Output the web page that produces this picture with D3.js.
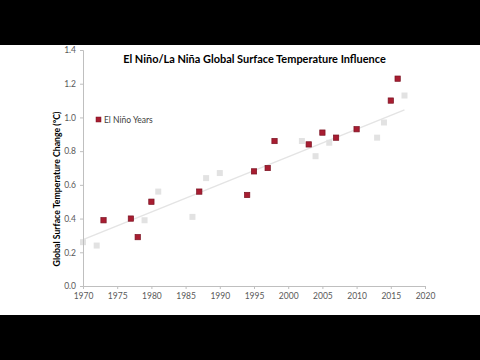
<!DOCTYPE html>
<html><head><meta charset="utf-8">
<script src="https://cdn.jsdelivr.net/npm/d3@7/dist/d3.min.js"></script>
<style>html,body{margin:0;padding:0;background:#000;} svg{display:block;}</style>
</head><body><svg id="c" width="480" height="360"></svg>
<script>
const elNinoYears = [1973,1977,1978,1980,1987,1994,1995,1997,1998,2003,2005,2007,2010,2015,2016];
const elNinoValues = [0.39,0.40,0.29,0.50,0.56,0.54,0.68,0.70,0.86,0.84,0.91,0.88,0.93,1.10,1.23];
const otherYears = [1970,1972,1979,1981,1986,1988,1990,2002,2004,2006,2013,2014,2017];
const otherValues = [0.26,0.24,0.39,0.56,0.41,0.64,0.67,0.86,0.77,0.85,0.88,0.97,1.13];
const trendYears = [1970,2017];
const trendValues = [0.275,1.045];
const xTicks = [1970,1975,1980,1985,1990,1995,2000,2005,2010,2015,2020];
const yTicks = [0,0.2,0.4,0.6,0.8,1.0,1.2,1.4];
const titleText = "El Niño/La Niña Global Surface Temperature Influence";
const yTitle = "Global Surface Temperature Change (°C)";
const legendLabel = "El Niño Years";

const svg = d3.select("#c");
svg.append("rect").attr("x",0).attr("y",45).attr("width",480).attr("height",270).attr("fill","#fff");

const x = d3.scaleLinear().domain([1970,2020]).range([83,425]);
const y = d3.scaleLinear().domain([0,1.4]).range([286,50]);
const font = "Lato, 'Open Sans', sans-serif";

// trend line
svg.append("line")
  .attr("x1",x(trendYears[0])).attr("y1",y(trendValues[0]))
  .attr("x2",x(trendYears[1])).attr("y2",y(trendValues[1]))
  .attr("stroke","#e4e4e4").attr("stroke-width",1.5);

const s = 6;
svg.append("g").selectAll("rect").data(otherYears.map((d,i)=>[d,otherValues[i]]))
  .join("rect")
  .attr("x",d=>x(d[0])-s/2).attr("y",d=>y(d[1])-s/2)
  .attr("width",s).attr("height",s).attr("fill","#e2e2e2");

svg.append("g").selectAll("rect").data(elNinoYears.map((d,i)=>[d,elNinoValues[i]]))
  .join("rect")
  .attr("x",d=>x(d[0])-s/2+0.35).attr("y",d=>y(d[1])-s/2+0.35)
  .attr("width",s-0.7).attr("height",s-0.7).attr("fill","#a81d31")
  .attr("stroke","#7a1222").attr("stroke-width",0.7);

// axes
const xa = svg.append("g").attr("transform","translate(0,286)")
  .call(d3.axisBottom(x).tickValues(xTicks).tickFormat(d3.format("d")).tickSize(3).tickPadding(4));
const ya = svg.append("g").attr("transform","translate(83,0)")
  .call(d3.axisLeft(y).tickValues(yTicks).tickFormat(d3.format(".1f")).tickSize(3).tickPadding(4));
[xa,ya].forEach(a=>{
  a.select(".domain").attr("stroke","#bfbfbf");
  a.selectAll(".tick line").attr("stroke","#bfbfbf");
  a.selectAll(".tick text").attr("fill","#595959").style("font-family",font).style("font-size","8.5px");
});

// title
const t = svg.append("text").attr("x",254.5).attr("y",63).attr("text-anchor","middle")
  .style("font-family",font).style("font-weight","bold").style("font-size","12px").attr("fill","#000")
  .text(titleText);
const tw = t.node().getComputedTextLength();
t.style("font-size",(12*263/tw)+"px");

// y title
const yt = svg.append("text").attr("transform","translate(60,189) rotate(-90)").attr("text-anchor","middle")
  .style("font-family",font).style("font-weight","bold").style("font-size","9px").attr("fill","#000")
  .text(yTitle);
const yw = yt.node().getComputedTextLength();
yt.style("font-size",(9*155/yw)+"px");

// legend
svg.append("rect").attr("x",96).attr("y",117).attr("width",5).attr("height",5)
  .attr("fill","#a81d31").attr("stroke","#7a1222").attr("stroke-width",0.5);
svg.append("text").attr("x",104).attr("y",122.5).style("font-family",font).style("font-size","8.5px")
  .attr("fill","#404040").text(legendLabel);
</script></body></html>
